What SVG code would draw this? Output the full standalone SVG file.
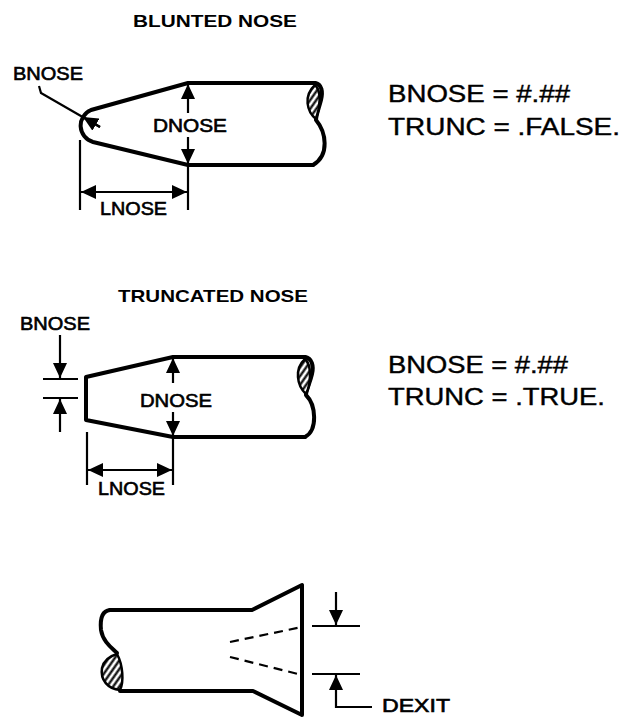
<svg xmlns="http://www.w3.org/2000/svg" width="624" height="717" viewBox="0 0 624 717">
<style>
.out{fill:none;stroke:#000;stroke-width:4;stroke-linejoin:round;stroke-linecap:round}
.dim{fill:none;stroke:#000;stroke-width:2.2}
.dash{fill:none;stroke:#000;stroke-width:2.2;stroke-dasharray:9,6}
.hat{fill:url(#hatch);stroke:#000;stroke-width:2.5}
.lbl{font-family:"Liberation Sans",Arial,sans-serif;font-size:18px;fill:#000;stroke:#000;stroke-width:0.6}
.ttl{font-family:"Liberation Sans",Arial,sans-serif;font-size:17px;font-weight:bold;fill:#000}
.eq{font-family:"Liberation Sans",Arial,sans-serif;font-size:23.5px;fill:#000;stroke:#000;stroke-width:0.4}
</style>
<defs>
<marker id="ah" viewBox="0 0 15 14" refX="15" refY="7" markerWidth="15" markerHeight="14" markerUnits="userSpaceOnUse" orient="auto-start-reverse">
<path d="M0,0 L15,7 L0,14 Z" fill="#000"/>
</marker>
<pattern id="hatch" patternUnits="userSpaceOnUse" width="5" height="5" patternTransform="rotate(-55)">
<rect width="5" height="5" fill="#fff"/>
<line x1="0" y1="1.5" x2="5" y2="1.5" stroke="#000" stroke-width="2.2"/>
</pattern>
</defs>
<rect width="624" height="717" fill="#fff"/>

<g id="blunted-nose">
<text class="ttl" x="133" y="27" textLength="164" lengthAdjust="spacingAndGlyphs">BLUNTED NOSE</text>
<path class="out" d="M315,83 L188,83 L91,110 A17,17 0 0 0 93,142 L188,165 L313,165"/>
<path class="out" d="M315,83 C322,84 323,92 321,100 C319,108 316,115 316,120 C326,132 330,155 313,165"/>
<path class="hat" d="M315,85 C322,91 320,108 316,119 C307,112 303,96 315,85 Z"/>
</g>

<g id="blunted-bnose">
<text class="lbl" x="13" y="80" textLength="70" lengthAdjust="spacingAndGlyphs">BNOSE</text>
<path class="dim" d="M39,86 L41,93 L100,127"/>
<path class="dim" d="M100,127 L83,117" marker-end="url(#ah)"/>
</g>

<g id="blunted-dnose">
<text class="lbl" x="153" y="132" textLength="74" lengthAdjust="spacingAndGlyphs">DNOSE</text>
</g>

<g id="blunted-lnose">
<text class="lbl" x="100" y="215" textLength="67" lengthAdjust="spacingAndGlyphs">LNOSE</text>
</g>

<g id="blunted-values">
<text class="eq" x="388" y="102" textLength="182" lengthAdjust="spacingAndGlyphs">BNOSE = #.##</text>
<text class="eq" x="388" y="135" textLength="232" lengthAdjust="spacingAndGlyphs">TRUNC = .FALSE.</text>
</g>

<g id="truncated-nose">
<text class="ttl" x="118" y="302" textLength="190" lengthAdjust="spacingAndGlyphs">TRUNCATED NOSE</text>
<path class="out" d="M305,357 L173,357 L86,377 L86,420 L173,437 L305,437"/>
<path class="out" d="M305,357 C312,358 314,366 312,374 C310,383 306,390 306,395 C316,405 318,430 305,437"/>
<path class="hat" d="M305,359 C312,365 311,384 306,394 C297,386 294,369 305,359 Z"/>
</g>

<g id="truncated-bnose">
<text class="lbl" x="20" y="330" textLength="70" lengthAdjust="spacingAndGlyphs">BNOSE</text>
</g>

<g id="truncated-dnose">
<text class="lbl" x="140" y="407" textLength="72" lengthAdjust="spacingAndGlyphs">DNOSE</text>
</g>

<g id="truncated-lnose">
<text class="lbl" x="98" y="495" textLength="67" lengthAdjust="spacingAndGlyphs">LNOSE</text>
</g>

<g id="truncated-values">
<text class="eq" x="388" y="373" textLength="180" lengthAdjust="spacingAndGlyphs">BNOSE = #.##</text>
<text class="eq" x="388" y="405" textLength="217" lengthAdjust="spacingAndGlyphs">TRUNC = .TRUE.</text>
</g>

<g id="exit-nozzle">
<path class="out" d="M110,610 L252,610 L302,585 L302,715 L253,691 L120,691"/>
<path class="out" d="M110,610 C101,611 100,620 101,630 C103,642 112,648 117,653"/>
<path class="hat" d="M117,654 C123,665 124,682 120,690 C108,689 100,680 102,668 C104,660 110,656 117,654 Z"/>
<path class="dash" d="M230,642 L302,627"/>
<path class="dash" d="M230,657 L302,675"/>
</g>

<g id="exit-dexit">
<text class="lbl" x="382" y="712" textLength="68" lengthAdjust="spacingAndGlyphs">DEXIT</text>
</g>

<g id="connectors">
<path class="dim" d="M188,113 L188,84" marker-end="url(#ah)"/>
<path class="dim" d="M188,137 L188,164" marker-end="url(#ah)"/>
<path class="dim" d="M80,140 L80,210"/>
<path class="dim" d="M188,166 L188,210"/>
<path class="dim" d="M81,192 L187,192" marker-start="url(#ah)" marker-end="url(#ah)"/>

<path class="dim" d="M43,379 L78,379"/>
<path class="dim" d="M43,398 L78,398"/>
<path class="dim" d="M60,335 L60,378" marker-end="url(#ah)"/>
<path class="dim" d="M60,432 L60,399" marker-end="url(#ah)"/>
<path class="dim" d="M173,383 L173,358" marker-end="url(#ah)"/>
<path class="dim" d="M173,412 L173,436" marker-end="url(#ah)"/>
<path class="dim" d="M87,432 L87,485"/>
<path class="dim" d="M173,438 L173,485"/>
<path class="dim" d="M88,470 L172,470" marker-start="url(#ah)" marker-end="url(#ah)"/>

<path class="dim" d="M312,626 L360,626"/>
<path class="dim" d="M312,674 L360,674"/>
<path class="dim" d="M336,592 L336,625" marker-end="url(#ah)"/>
<path class="dim" d="M372,707 L336,707 L336,675" marker-end="url(#ah)"/>
</g>
</svg>
